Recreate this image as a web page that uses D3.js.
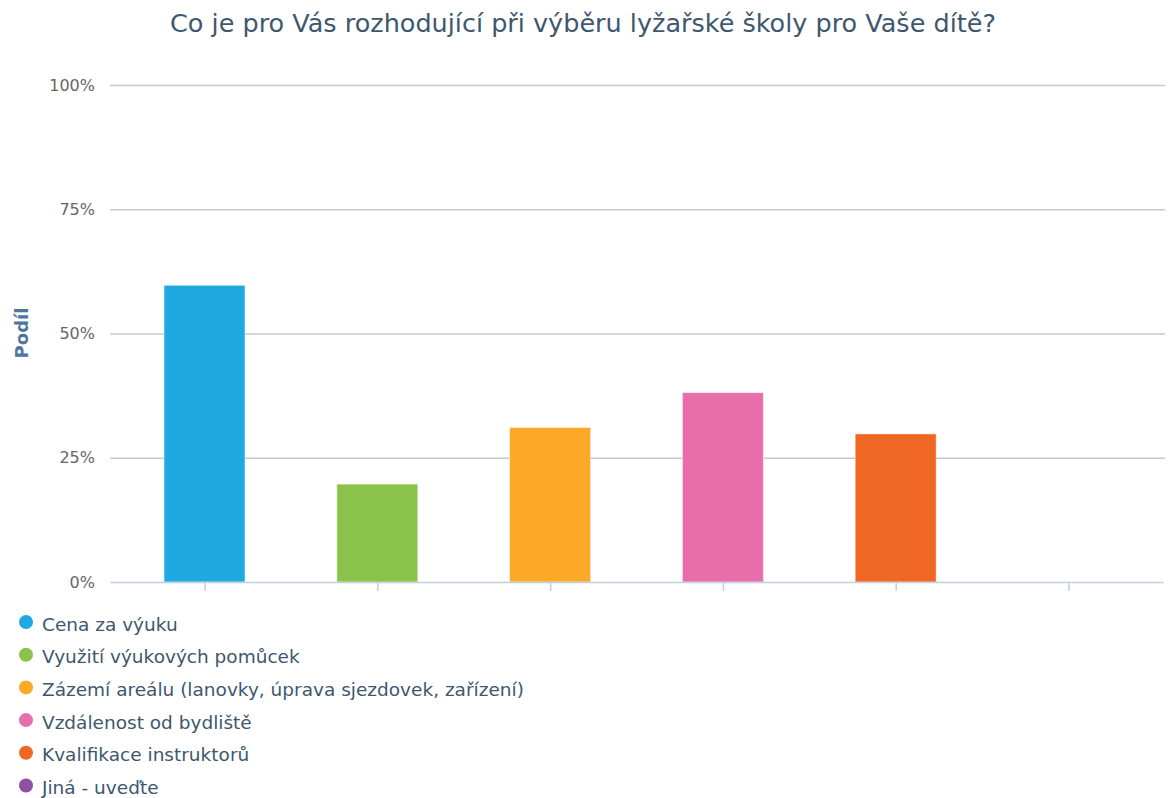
<!DOCTYPE html>
<html>
<head>
<meta charset="utf-8">
<script src="https://cdnjs.cloudflare.com/ajax/libs/d3/7.8.5/d3.min.js"></script>
<style>
  body { margin: 0; background: #fff; }
  text { font-family: "DejaVu Sans", Verdana, sans-serif; }
</style>
</head>
<body>
<script>
// data
var categories = ["Cena za výuku", "Využití výukových pomůcek", "Zázemí areálu (lanovky, úprava sjezdovek, zařízení)",
                  "Vzdálenost od bydliště", "Kvalifikace instruktorů", "Jiná - uveďte"];
var values = [59.7, 19.7, 31.1, 38.1, 29.8, 0];
var colors = ["#1eaae1", "#8bc34a", "#fba926", "#e76eab", "#f06724", "#8e51a2"];
var yTicks = [0, 25, 50, 75, 100];

var width = 1168, height = 798;
var plotLeft = 110, plotRight = 1163, plotTop = 85, plotBottom = 582;

var svg = d3.select("body").append("svg")
    .attr("width", width)
    .attr("height", height);

/* scales */
var x = d3.scalePoint()
    .domain(categories)
    .range([plotLeft, plotRight])
    .padding(0.547);
var y = d3.scaleLinear()
    .domain([0, 100])
    .range([plotBottom, plotTop]);

/* title */
svg.append("text")
    .attr("x", 583)
    .attr("y", 32)
    .attr("text-anchor", "middle")
    .attr("font-size", 25.5)
    .attr("fill", "#3e576f")
    .text("Co je pro Vás rozhodující při výběru lyžařské školy pro Vaše dítě?");

/* gridlines + y labels */
var yAxis = svg.append("g")
    .attr("transform", "translate(" + plotLeft + ",0)")
    .call(d3.axisLeft(y).tickValues(yTicks).tickSize(-(plotRight - plotLeft + 2)).tickPadding(15)
          .tickFormat(function(d){ return d + "%"; }));
yAxis.select(".domain").remove();
yAxis.selectAll(".tick line").attr("stroke", "#c8c8c8").attr("stroke-width", 1.5)
    .filter(function(d){ return d === 0; }).remove();
yAxis.selectAll(".tick text")
    .attr("font-size", 16)
    .attr("fill", "#666")
    .attr("font-family", "DejaVu Sans");

/* y title */
svg.append("text")
    .attr("transform", "translate(28,333) rotate(-90)")
    .attr("text-anchor", "middle")
    .attr("font-size", 18)
    .attr("font-weight", "bold")
    .attr("fill", "#4d759e")
    .text("Podíl");

/* bars */
var barW = 81;
svg.selectAll(".bar")
    .data(values)
    .enter().append("rect")
    .attr("class", "bar")
    .attr("x", function(d, i){ return x(categories[i]) - barW / 2; })
    .attr("y", function(d){ return y(d); })
    .attr("width", barW)
    .attr("height", function(d){ return y(0) - y(d); })
    .attr("fill", function(d, i){ return colors[i]; })
    .attr("stroke", "#fff")
    .attr("stroke-opacity", 0.5)
    .attr("stroke-width", 1);

/* x axis */
var xAxis = svg.append("g")
    .attr("transform", "translate(0," + plotBottom + ")")
    .call(d3.axisBottom(x).tickSize(9).tickSizeOuter(0).tickFormat(""));
xAxis.select(".domain").attr("stroke", "#c0d0e0").attr("stroke-width", 1.5);
xAxis.selectAll(".tick line").attr("stroke", "#c0d0e0").attr("stroke-width", 1.5);

/* legend */
var legend = svg.selectAll(".legend")
    .data(categories)
    .enter().append("g")
    .attr("class", "legend")
    .attr("transform", function(d, i){ return "translate(0," + (622 + i * 32.7) + ")"; });
legend.append("circle")
    .attr("cx", 26)
    .attr("cy", 0)
    .attr("r", 7)
    .attr("fill", function(d, i){ return colors[i]; });
legend.append("text")
    .attr("x", 42)
    .attr("y", 8.5)
    .attr("font-size", 18.5)
    .attr("fill", "#3e576f")
    .text(function(d){ return d; });
</script>
</body>
</html>
